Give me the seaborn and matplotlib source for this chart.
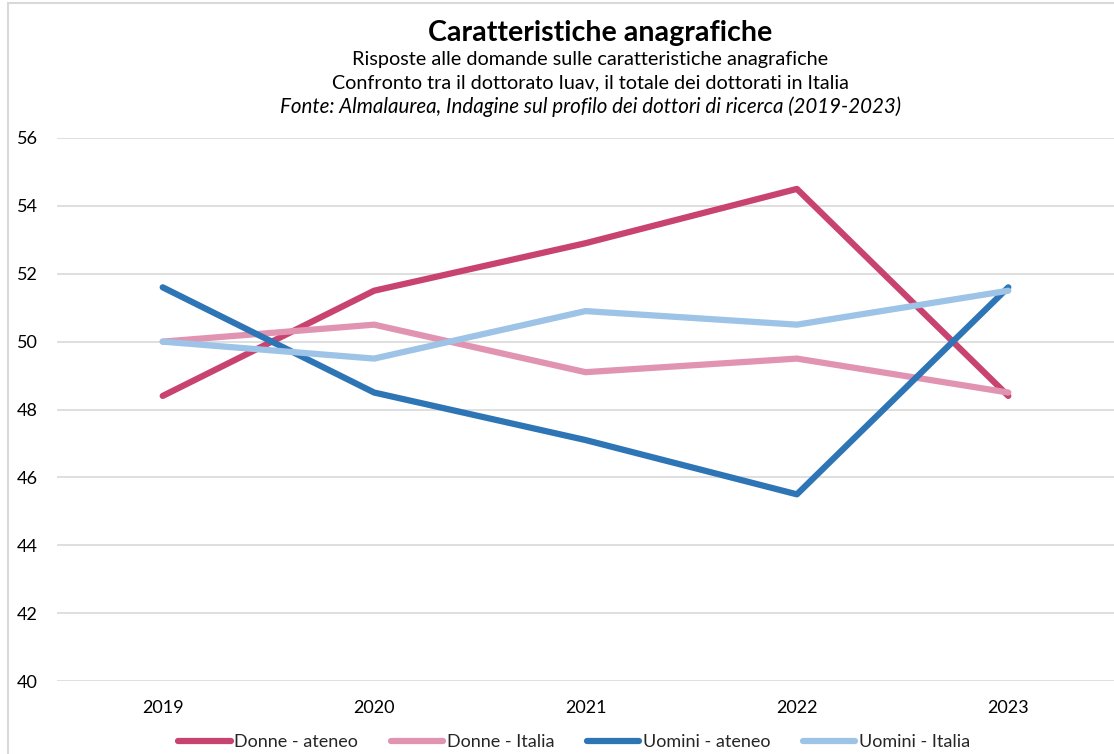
import matplotlib
matplotlib.use("Agg")
import matplotlib.pyplot as plt
import seaborn as sns
import pandas as pd
from matplotlib.patches import Rectangle

years = ["2019", "2020", "2021", "2022", "2023"]
donne_ateneo = [48.4, 51.5, 52.9, 54.5, 48.4]
donne_italia = [50.0, 50.5, 49.1, 49.5, 48.5]
uomini_ateneo = [51.6, 48.5, 47.1, 45.5, 51.6]
uomini_italia = [50.0, 49.5, 50.9, 50.5, 51.5]
series_names = ["Donne - ateneo", "Donne - Italia", "Uomini - ateneo", "Uomini - Italia"]
colors = ["#C8436F", "#E194B2", "#2E75B6", "#9DC3E6"]
yticks = [40, 42, 44, 46, 48, 50, 52, 54, 56]

sns.set_theme(style="white")
plt.rcParams['font.family'] = ['Lato', 'DejaVu Sans']

rows = []
for name, vals in zip(series_names, [donne_ateneo, donne_italia, uomini_ateneo, uomini_italia]):
    for i, (y, v) in enumerate(zip(years, vals)):
        rows.append({"idx": i, "Anno": y, "Valore": v, "Serie": name})
df = pd.DataFrame(rows)

fig = plt.figure(figsize=(11.14, 7.54), dpi=100)
ax = fig.add_axes([57/1114, 1 - 681/754, (1114 - 57) / 1114, (681 - 138) / 754])

sns.lineplot(data=df, x="idx", y="Valore", hue="Serie", hue_order=series_names,
             palette=colors, linewidth=4.5, ax=ax, legend=True, zorder=3)
for ln in ax.lines:
    ln.set_solid_capstyle("round")

ax.set_xlim(-0.5, 4.5)
ax.set_ylim(40, 56)
ax.set_yticks(yticks)
ax.set_yticklabels([str(t) for t in yticks], fontsize=13, color="#000000")
ax.set_xticks(range(len(years)))
ax.set_xticklabels(years, fontsize=13, color="#000000")
ax.tick_params(axis="y", pad=14, length=0)
ax.tick_params(axis="x", pad=14, length=0)
ax.yaxis.grid(True, color="#D9D9D9", linewidth=1.2, zorder=0)
ax.set_axisbelow(True)
for s in ax.spines.values():
    s.set_visible(False)
ax.set_xlabel("")
ax.set_ylabel("")

handles, labels = ax.get_legend_handles_labels()
ax.legend(handles, labels, loc="center", bbox_to_anchor=((574 - 57) / 1057, (742 - 681) / -543),
          ncol=4, frameon=False, fontsize=13, handlelength=2.9, handletextpad=0.2,
          columnspacing=1.8)
leg = ax.get_legend()
for lh in leg.get_lines():
    lh.set_linewidth(4.5)
    lh.set_solid_capstyle("round")

fig.text(600/1114, 1 - 33/754, "Caratteristiche anagrafiche", ha="center", va="center",
         fontsize=20.6, fontweight="bold", color="#000000")
fig.text(590/1114, 1 - 59/754, "Risposte alle domande sulle caratteristiche anagrafiche",
         ha="center", va="center", fontsize=14.3, color="#000000")
fig.text(590/1114, 1 - 83/754, "Confronto tra il dottorato Iuav, il totale dei dottorati in Italia",
         ha="center", va="center", fontsize=14.2, color="#000000")
fig.text(590/1114, 1 - 107/754, "Fonte: Almalaurea, Indagine sul profilo dei dottori di ricerca (2019-2023)",
         ha="center", va="center", fontsize=14.8, style="italic", color="#000000")

fig.patches.append(Rectangle((8/1114, -0.01), 1.1, 1 - 3/754 + 0.01, transform=fig.transFigure,
                             fill=False, edgecolor="#D9D9D9", linewidth=1.5, zorder=0))

fig.savefig("out.png", dpi=100)
